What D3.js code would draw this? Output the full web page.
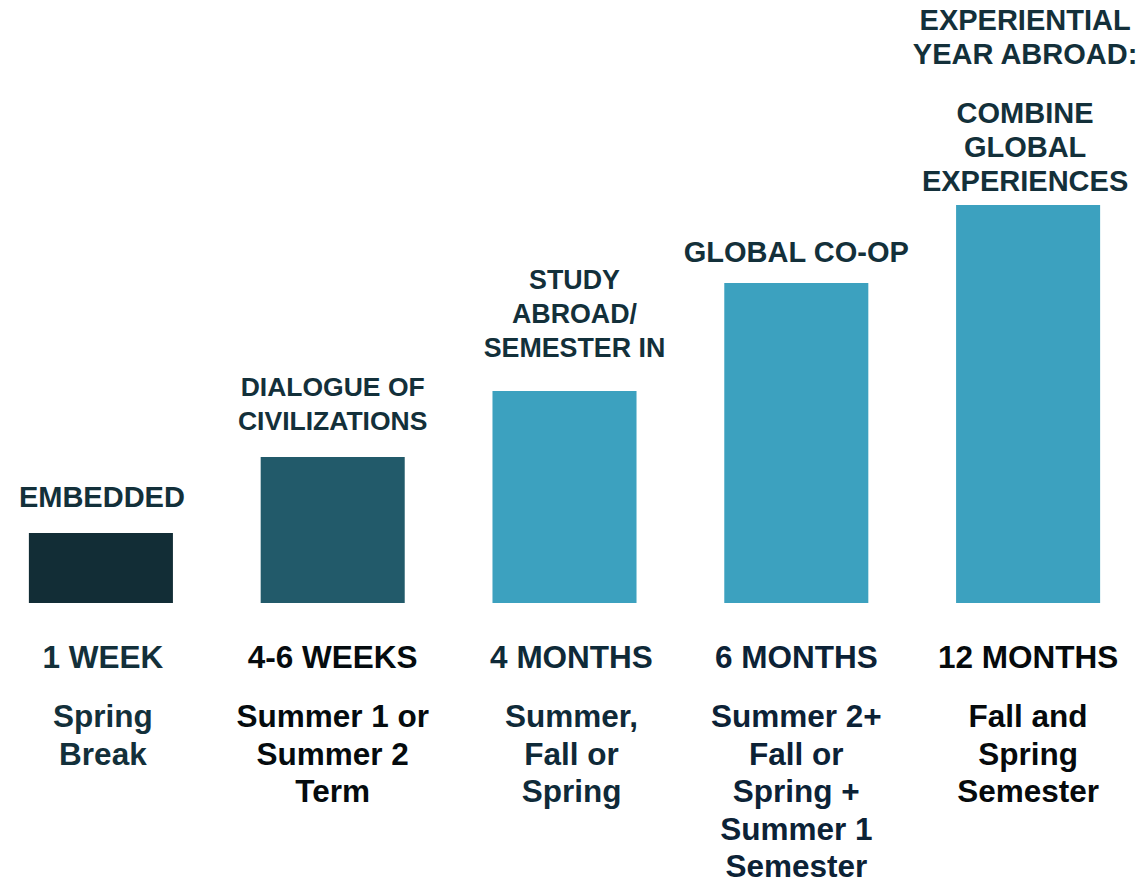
<!DOCTYPE html>
<html><head><meta charset="utf-8">
<script src="https://cdn.jsdelivr.net/npm/d3@7"></script>
<style>body{margin:0;background:#fff}svg{display:block}text{font-family:"Liberation Sans",Arial,sans-serif;font-weight:bold}</style>
</head><body>
<script>
const categories = ["EMBEDDED","DIALOGUE","STUDY","COOP","YEAR"];
const values = [70, 146, 212, 320, 398];
const barColors = ["#122d36","#225a6a","#3ca1bf","#3ca1bf","#3ca1bf"];
const topLabels = [
  ["EMBEDDED"],
  ["DIALOGUE OF","CIVILIZATIONS"],
  ["STUDY","ABROAD/","SEMESTER IN"],
  ["GLOBAL CO-OP"],
  ["EXPERIENTIAL","YEAR ABROAD:","","COMBINE","GLOBAL","EXPERIENCES"]
];
const durations = ["1 WEEK","4-6 WEEKS","4 MONTHS","6 MONTHS","12 MONTHS"];
const terms = [
  ["Spring","Break"],
  ["Summer 1 or","Summer 2","Term"],
  ["Summer,","Fall or","Spring"],
  ["Summer 2+","Fall or","Spring +","Summer 1","Semester"],
  ["Fall and","Spring","Semester"]
];
const textColors = ["#13303a","#050b0e","#0f2a38","#0c2236","#060a0c"];

const W = 1140, H = 883;
const svg = d3.select("body").append("svg").attr("width", W).attr("height", H);
const x = d3.scaleBand().domain(categories).range([-15, 1144]).paddingInner(0.3786).paddingOuter(0.1893);
const y = d3.scaleLinear().domain([0, 398]).range([603, 205]);

svg.selectAll("rect.bar").data(categories).join("rect")
  .attr("x", d => x(d)).attr("width", x.bandwidth())
  .attr("y", (d,i) => y(values[i])).attr("height", (d,i) => y(0) - y(values[i]))
  .attr("fill", (d,i) => barColors[i]);

// layout tweaks (label offsets relative to bar)
const topGap = [26, 27, 34, 21, 14];
const topSize = [29, 26.5, 26.8, 29, 29];
const topDx = [1, 0, 10, 0, -3];
const botDx = [2, 0, 7, 0, 0];
const topLine = 34;
categories.forEach((c,i) => {
  const lines = topLabels[i];
  const cx = x(c) + x.bandwidth()/2 + topDx[i];
  let yy = y(values[i]) - topGap[i];
  const pos = [];
  for (let k = lines.length - 1; k >= 0; k--) {
    pos[k] = yy;
    yy -= (lines[k] === "" ? 25 : topLine);
  }
  lines.forEach((t,k) => {
    if (t === "") return;
    svg.append("text").attr("x", cx).attr("y", pos[k]).attr("text-anchor","middle")
      .attr("font-size", topSize[i]).attr("fill", "#13303a").text(t);
  });
});

categories.forEach((c,i) => {
  const cx = x(c) + x.bandwidth()/2 + botDx[i];
  svg.append("text").attr("x", cx).attr("y", 668).attr("text-anchor","middle")
    .attr("font-size", 31.5).attr("fill", textColors[i]).text(durations[i]);
  terms[i].forEach((t,k) => {
    svg.append("text").attr("x", cx).attr("y", 727 + k*37.5).attr("text-anchor","middle")
      .attr("font-size", 31.5).attr("fill", textColors[i]).text(t);
  });
});
</script>
</body></html>
